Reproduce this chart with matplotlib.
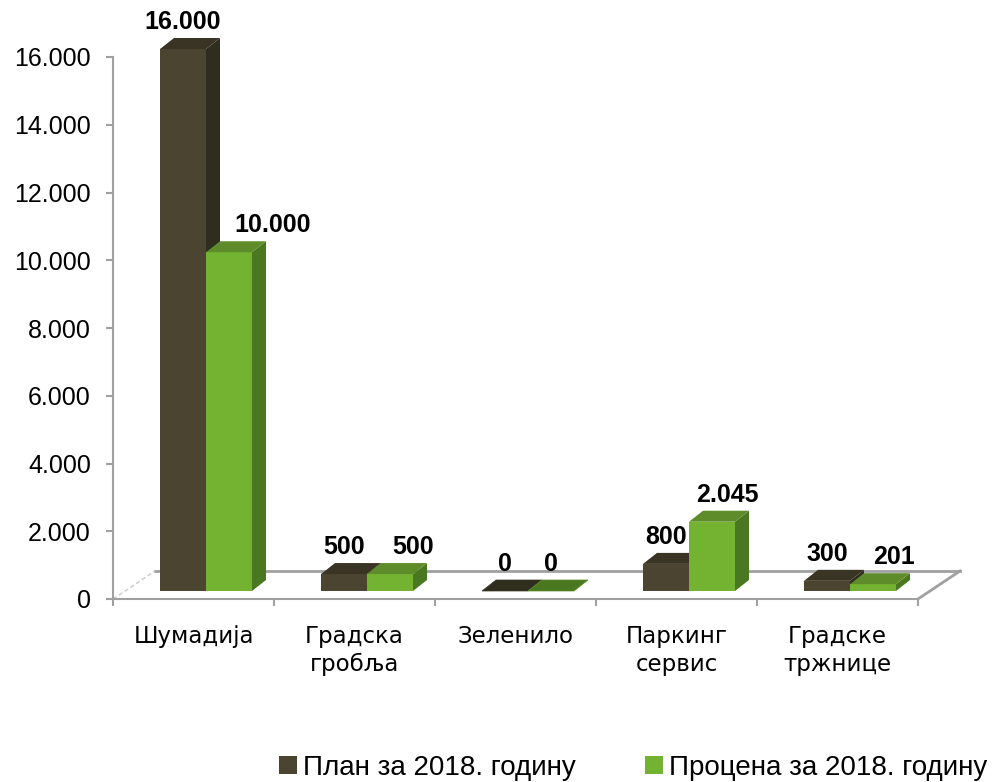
import matplotlib
matplotlib.use("Agg")
import matplotlib.pyplot as plt
from matplotlib.patches import Polygon, Patch
from matplotlib.ticker import FuncFormatter

categories = ["Шумадија", "Градска\nгробља", "Зеленило", "Паркинг\nсервис", "Градске\nтржнице"]
series_names = ["План за 2018. годину", "Процена за 2018. годину"]
plan = [16000, 500, 0, 800, 300]
estimate = [10000, 500, 0, 2045, 201]
value_labels = [["16.000", "500", "0", "800", "300"],
                ["10.000", "500", "0", "2.045", "201"]]

# colours: front, top, side
colors = [("#4B4430", "#3A3424", "#2F2D1E"),
          ("#74B331", "#5E8C2A", "#4A7820")]

plt.rcParams['font.family'] = ['Liberation Sans', 'DejaVu Sans']

W, H = 998, 782
fig = plt.figure(figsize=(W / 100, H / 100), dpi=100)
ax_l, ax_r, ax_b, ax_t = 113, 918, 599, 57
ax = fig.add_axes([ax_l / W, (H - ax_b) / H, (ax_r - ax_l) / W, (ax_b - ax_t) / H])
ymax = 16000
n = len(categories)
ax.set_xlim(0, n)
ax.set_ylim(0, ymax)

px_x = (ax_r - ax_l) / n          # pixels per x unit
px_y = (ax_b - ax_t) / ymax       # pixels per y unit
def dxp(p): return p / px_x
def dyp(p): return p / px_y

grey = "#A0A0A0"
# floor
fdx, fdy = dxp(42), dyp(28)
ax.plot([fdx, n + fdx], [fdy, fdy], color=grey, lw=2, clip_on=False, zorder=1)
ax.plot([n, n + fdx], [0, fdy], color=grey, lw=2, clip_on=False, zorder=1)
ax.plot([0, fdx], [0, fdy], color="#C8C8C8", lw=1, ls=(0, (3, 2)), clip_on=False, zorder=1)

# bars
bw = dxp(46)
off0 = dxp(47)
base = dyp(8)
bdx, bdy = dxp(14), dyp(11)
label_shift = [[0, 0, 0, 0, 0], [44, 23, 0, 15, 21]]
for i in range(n):
    for s, vals in enumerate([plan, estimate]):
        v = vals[i]
        x0 = i + off0 + s * bw
        x1 = x0 + bw
        y0 = base
        y1 = base + v
        fc, tc, sc = colors[s]
        z = 3 + s
        if v > 0:
            ax.add_patch(Polygon([(x1, y0), (x1 + bdx, y0 + bdy), (x1 + bdx, y1 + bdy), (x1, y1)],
                                 closed=True, fc=sc, ec="none", clip_on=False, zorder=z))
            ax.add_patch(Polygon([(x0, y0), (x1, y0), (x1, y1), (x0, y1)],
                                 closed=True, fc=fc, ec="none", clip_on=False, zorder=z))
        ax.add_patch(Polygon([(x0, y1), (x1, y1), (x1 + bdx, y1 + bdy), (x0 + bdx, y1 + bdy)],
                             closed=True, fc=tc if v > 0 else sc, ec=tc if v == 0 else "none",
                             lw=0.5, clip_on=False, zorder=z))
        ax.annotate(value_labels[s][i], xy=((x0 + x1) / 2, y1 + bdy), xytext=(label_shift[s][i] * 0.72, 3),
                    textcoords="offset points", ha="center", va="bottom",
                    fontsize=18, fontweight="bold", color="black", zorder=10, annotation_clip=False)

# axes styling
for sp in ["top", "right"]:
    ax.spines[sp].set_visible(False)
for sp in ["left", "bottom"]:
    ax.spines[sp].set_color(grey)
    ax.spines[sp].set_linewidth(1.5)
ax.set_yticks(range(0, ymax + 1, 2000))
ax.yaxis.set_major_formatter(FuncFormatter(lambda v, p: f"{int(v):,}".replace(",", ".")))
ax.tick_params(axis="y", direction="out", length=5, width=1.5, color=grey, labelsize=18, pad=11)
ax.set_xticks(range(0, n + 1))
ax.set_xticklabels([""] * (n + 1))
ax.set_xticks([i + 0.5 for i in range(n)], minor=True)
ax.set_xticklabels(categories, minor=True, fontsize=16.5, linespacing=1.25,
                   family=["DejaVu Sans"])
ax.tick_params(axis="x", which="major", direction="out", length=5, width=1.5, color=grey)
ax.tick_params(axis="x", which="minor", length=0, pad=19)

handles = [Patch(fc=colors[0][0], ec="none"), Patch(fc=colors[1][0], ec="none")]
fig.legend(handles, series_names, loc="center", bbox_to_anchor=(633 / W, 1 - 768 / H),
           ncol=2, frameon=False, handlelength=0.65, handleheight=0.6,
           handletextpad=0.2, columnspacing=2.5, borderpad=0,
           prop={"family": ["Liberation Sans"], "size": 20})

fig.savefig("out.png", dpi=100)
